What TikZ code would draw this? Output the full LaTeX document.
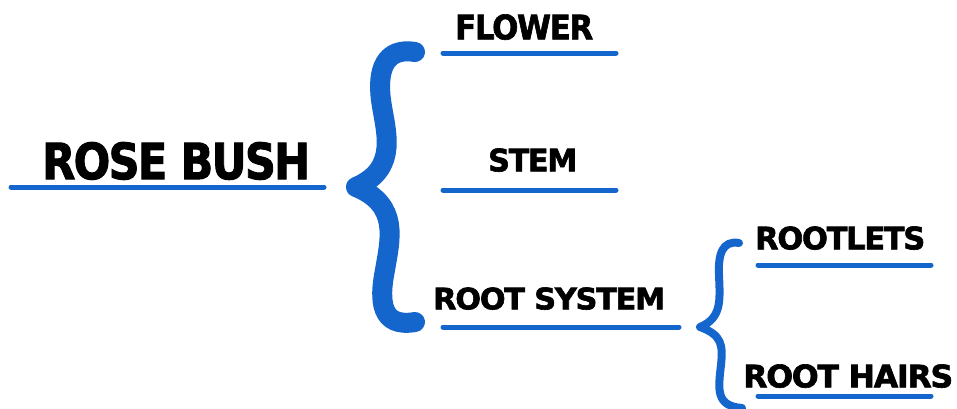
\documentclass[tikz,border=0pt]{standalone}
\usepackage{fontspec}
\setmainfont{DejaVu Sans}
\newfontfamily\heavyfont[FakeBold=2,LetterSpace=-4]{DejaVu Sans Bold}
\usepackage{graphicx}
\definecolor{braceblue}{RGB}{20,102,204}
\tikzset{
  lbl/.style={inner sep=0pt, anchor=south west, font=\heavyfont, text=black},
  uline/.style={draw=braceblue, line width=5pt, line cap=round},
  bigbrace/.style={draw=braceblue, line width=20pt, line cap=round, line join=round},
  smallbrace/.style={draw=braceblue, line width=8pt, line cap=round, line join=round}
}
\begin{document}
\begin{tikzpicture}[x=1pt,y=-1pt]
\useasboundingbox[fill=white] (0,0) rectangle (957,408);
\clip (0,0) rectangle (957,408);
% labels
\node[lbl] (rose) at (42,180) {\resizebox{268pt}{37pt}{ROSE BUSH}};
\node[lbl] (flower) at (455,40) {\resizebox{138pt}{25pt}{FLOWER}};
\node[lbl] (stem) at (488,172) {\resizebox{89pt}{23pt}{STEM}};
\node[lbl] (root) at (433,310) {\resizebox{232pt}{22pt}{ROOT SYSTEM}};
\node[lbl] (rootlets) at (755,250) {\resizebox{170pt}{23pt}{ROOTLETS}};
\node[lbl] (hairs) at (743,388) {\resizebox{210pt}{23pt}{ROOT HAIRS}};
% underlines
\draw[uline] (11,187) -- (324,187);
\draw[uline] (443,53) -- (616,53);
\draw[uline] (443,190) -- (616,190);
\draw[uline] (443,327) -- (679,327);
\draw[uline] (758,265) -- (931,265);
\draw[uline] (758,396) -- (931,396);
% big brace
\draw[bigbrace] (415,52) .. controls (385,47) and (377,70) .. (381,100)
  .. controls (385,130) and (400,168) .. (356,187)
  .. controls (400,205) and (390,240) .. (385,270)
  .. controls (379,300) and (380,328) .. (415,322);
% small brace
\draw[smallbrace] (739,243) .. controls (722,240) and (718,255) .. (719,275)
  .. controls (720,300) and (722,318) .. (700,327)
  .. controls (722,335) and (723,345) .. (721,365)
  .. controls (718,390) and (716,406) .. (742,408);
\end{tikzpicture}
\end{document}
